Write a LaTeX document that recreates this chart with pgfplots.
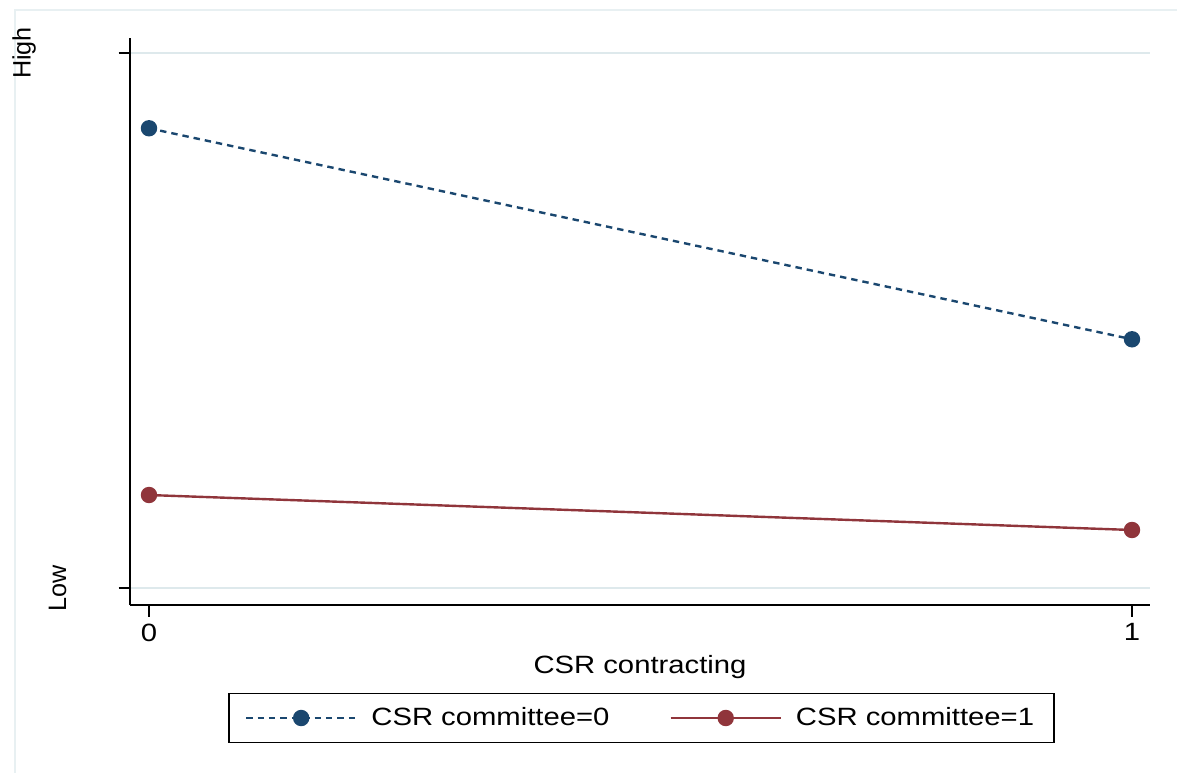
\documentclass[border=0pt]{standalone}
\usepackage{pgfplots}
\pgfplotsset{compat=1.18}
\usepackage{fontspec}
\setmainfont{Liberation Sans}[FakeStretch=1.17]
\newfontfamily\yfont{Liberation Sans}
\definecolor{s2navy}{RGB}{26,71,111}
\definecolor{s2maroon}{RGB}{144,53,59}
\definecolor{gridc}{RGB}{222,233,236}
\definecolor{framec}{RGB}{232,240,242}
\begin{document}
\begin{tikzpicture}
\path[use as bounding box] (0,0) rectangle (588.5pt,386pt);
\draw[framec, line width=0.6pt] (7.5pt,-2pt) -- (7.5pt,381pt) -- (592pt,381pt);
\begin{axis}[
  at={(65pt,83.5pt)}, anchor=south west,
  scale only axis, width=510pt, height=283.5pt,
  xmin=-0.01933, xmax=1.01831, ymin=-0.03178, ymax=1.02804,
  axis x line=bottom, axis y line=left,
  axis line style={-, line width=0.75pt, black},
  xtick={0,1}, xticklabels={0,1},
  ytick={0,1}, yticklabels={,},
  tick align=outside, major tick length=5.75pt,
  tick style={black, line width=0.75pt},
  ymajorgrids, grid style={gridc, line width=0.9pt},
  xticklabel style={font=\fontsize{12.5}{15}\selectfont},
  xlabel={CSR contracting},
  xlabel style={font=\fontsize{12.5}{15}\selectfont},
  /pgf/number format/assume math mode=true,
  clip=false,
  legend style={at={(0.5015,-0.1993)}, anchor=center, draw=black, line width=0.75pt,
    font=\fontsize{12.5}{15}\selectfont, inner xsep=8pt, inner ysep=5pt,
    /tikz/every odd column/.append style={column sep=5pt},
    /tikz/every even column/.append style={column sep=28pt}},
  legend columns=2,
  legend cell align=left,
  legend image code/.code={\draw[mark repeat=2, mark phase=2] plot coordinates {(0pt,0pt) (27.5pt,0pt) (55pt,0pt)};},
]
\addplot[s2navy, line width=1.2pt, dash pattern=on 3.2pt off 2.5pt, mark=*, mark size=3.5pt, mark options={solid, fill=s2navy}] coordinates {(0,0.8593) (1,0.4649)};
\addlegendentry{CSR committee=0}
\addplot[s2maroon, line width=1.2pt, mark=*, mark size=3.5pt, mark options={solid, fill=s2maroon}] coordinates {(0,0.1738) (1,0.1084)};
\addlegendentry{CSR committee=1\hspace{6pt}}
\node[rotate=90, font=\yfont\fontsize{12.6}{14}\selectfont, inner sep=0pt] at ([xshift=-53pt]axis cs:-0.01933,1) {High};
\node[rotate=90, font=\yfont\fontsize{12.6}{14}\selectfont, inner sep=0pt] at ([xshift=-36.25pt]axis cs:-0.01933,0) {Low};
\end{axis}
\end{tikzpicture}
\end{document}
